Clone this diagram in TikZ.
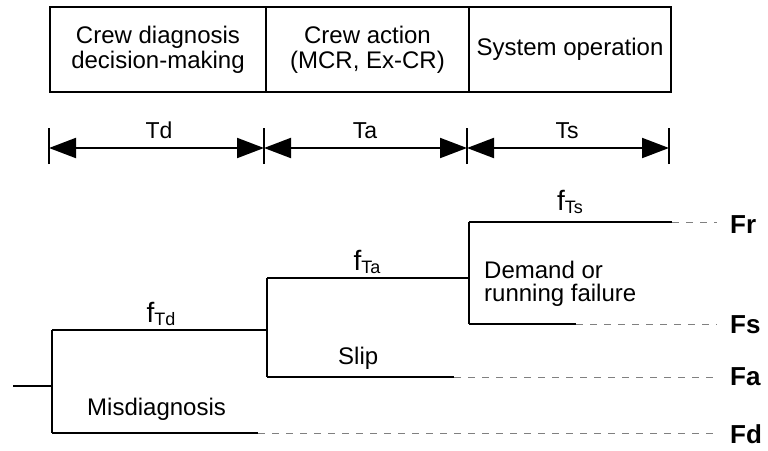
\documentclass[tikz,border=0pt]{standalone}
\usepackage{fontspec}
\setmainfont{Liberation Sans}
\usetikzlibrary{arrows.meta}
\begin{document}
\begin{tikzpicture}[x=1pt,y=-1pt,
  phasebox/.style={draw,line width=1.4pt,inner sep=0pt,minimum height=85pt,align=center,
    font=\fontsize{24}{25}\selectfont},
  branch/.style={line width=2.2pt},
  leader/.style={line width=0.8pt,gray,dash pattern=on 7pt off 7pt},
  tick/.style={line width=1.6pt},
  span/.style={line width=2pt,{Triangle[length=27pt,width=20pt]}-{Triangle[length=27pt,width=20pt]}},
  lbl/.style={inner sep=0pt,font=\fontsize{24}{26}\selectfont},
  tlbl/.style={inner sep=0pt,font=\fontsize{23}{23}\selectfont},
  endlbl/.style={inner sep=0pt,anchor=base west,font=\fontsize{26}{26}\selectfont\bfseries},
  flbl/.style={inner sep=0pt,anchor=base,font=\fontsize{28}{28}\selectfont}]
\useasboundingbox (0,0) rectangle (768,450);
\newcommand{\fsub}[1]{f\raisebox{-3pt}{\fontsize{18}{18}\selectfont #1}}

% phase boxes
\node[phasebox,minimum width=216pt] (b1) at (158,49.5) {Crew diagnosis\\decision-making};
\node[phasebox,minimum width=203pt] (b2) at (367.5,49.5) {Crew action\\(MCR, Ex-CR)};
\node[phasebox,minimum width=202pt] (b3) at (570,49.5) {System operation};

% time spans
\coordinate (t0) at (49,148);
\coordinate (t1) at (264,148);
\coordinate (t2) at (467,148);
\coordinate (t3) at (669,148);
\foreach \t in {t0,t1,t2,t3} \draw[tick] ([yshift=-16pt]\t) -- ([yshift=20pt]\t);
\draw[span] (t0) -- (t1);
\draw[span] (t1) -- (t2);
\draw[span] (t2) -- (t3);
\node[tlbl,anchor=base] (td) at (159,138) {Td};
\node[tlbl,anchor=base] (ta) at (365,138) {Ta};
\node[tlbl,anchor=base] (ts) at (567,138) {Ts};

% event tree coordinates
\coordinate (s0) at (13,386);
\coordinate (n1) at (52,386);
\coordinate (n1u) at (52,330);
\coordinate (n1d) at (52,433);
\coordinate (n2) at (267,330);
\coordinate (n2u) at (267,278);
\coordinate (n2d) at (267,377);
\coordinate (n3) at (469,278);
\coordinate (n3u) at (469,222);
\coordinate (n3d) at (469,324);
\coordinate (eFr) at (672,222);
\coordinate (eFs) at (576,324);
\coordinate (eFa) at (454,377);
\coordinate (eFd) at (258,433);
\coordinate (dFr) at (717,222);
\coordinate (dFs) at (717,324);
\coordinate (dFa) at (717,377);
\coordinate (dFd) at (717,433);

\draw[branch] (s0) -- (n1);
\draw[branch] (n1u) -- (n1d);
\draw[branch] (n1u) -- (n2);
\draw[branch] (n1d) -- (eFd);
\draw[branch] (n2u) -- (n2d);
\draw[branch] (n2u) -- (n3);
\draw[branch] (n2d) -- (eFa);
\draw[branch] (n3u) -- (n3d);
\draw[branch] (n3u) -- (eFr);
\draw[branch] (n3d) -- (eFs);

\draw[leader] (eFr) -- (dFr);
\draw[leader] (eFs) -- (dFs);
\draw[leader] (eFa) -- (dFa);
\draw[leader] (eFd) -- (dFd);

% labels
\node[flbl] (fTd) at (161,322) {\fsub{Td}};
\node[flbl] (fTa) at (367,270) {\fsub{Ta}};
\node[flbl] (fTs) at (570,210) {\fsub{Ts}};
\node[lbl,anchor=base west] (mis) at (87,415) {Misdiagnosis};
\node[lbl,anchor=base west] (slip) at (338,364) {Slip};
\node[lbl,anchor=base west,align=left,font=\fontsize{24}{23}\selectfont] (dem) at (484,301) {Demand or\\running failure};
\node[endlbl] (Fr) at (730,233) {Fr};
\node[endlbl] (Fs) at (730,333) {Fs};
\node[endlbl] (Fa) at (730,385) {Fa};
\node[endlbl] (Fd) at (730,443) {Fd};
\end{tikzpicture}
\end{document}
